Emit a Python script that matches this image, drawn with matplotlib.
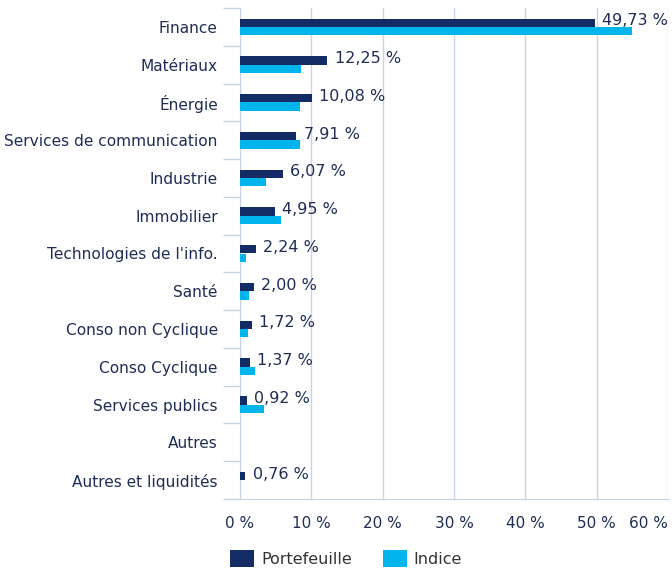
import matplotlib.pyplot as plt
import numpy as np

# data
categories = ['Finance', 'Matériaux', 'Énergie', 'Services de communication',
              'Industrie', 'Immobilier', "Technologies de l'info.", 'Santé',
              'Conso non Cyclique', 'Conso Cyclique', 'Services publics',
              'Autres', 'Autres et liquidités']
portefeuille = [49.73, 12.25, 10.08, 7.91, 6.07, 4.95, 2.24, 2.00, 1.72, 1.37, 0.92, 0.0, 0.76]
indice = [54.9, 8.6, 8.4, 8.4, 3.7, 5.7, 0.8, 1.3, 1.1, 2.1, 3.3, 0.0, 0.0]
port_labels = ['49,73 %', '12,25 %', '10,08 %', '7,91 %', '6,07 %', '4,95 %', '2,24 %',
               '2,00 %', '1,72 %', '1,37 %', '0,92 %', '', '0,76 %']
xticks = [0, 10, 20, 30, 40, 50, 60]

dark = '#132c66'
light = '#00b5eb'
grid_col = '#c8d4e6'
text_col = '#1f2d55'

fig = plt.figure(figsize=(6.72, 5.7), dpi=100)
ax = fig.add_axes([240 / 672, 71 / 570, 428 / 672, 491 / 570])

n = len(categories)
y = np.arange(n)
h = 0.22
ax.barh(y - h / 2, portefeuille, height=h, color=dark, label='Portefeuille', zorder=3)
ax.barh(y + h / 2, indice, height=h, color=light, label='Indice', zorder=3)

for yi, v, lab in zip(y, portefeuille, port_labels):
    if lab:
        ax.text(v + 1.0, yi - h / 2 - 0.05, lab, va='center', ha='left',
                fontsize=11.5, color=text_col, zorder=4)

ax.set_ylim(n - 0.5, -0.5)
ax.set_xlim(0, 60)
ax.set_xticks(xticks)
ax.set_xticklabels([f'{t} %' for t in xticks], fontsize=11, color=text_col)
ax.get_xticklabels()[-1].set_ha('right')
ax.tick_params(axis='x', length=0, pad=12)

ax.set_yticks(y)
ax.set_yticklabels(categories, fontsize=11.1, color=text_col)
ax.set_yticks(np.arange(-0.5, n, 1), minor=True)
ax.tick_params(axis='y', which='major', length=0, pad=16)
ax.tick_params(axis='y', which='minor', length=12, width=1, color=grid_col)

ax.grid(axis='x', color=grid_col, linewidth=1, zorder=0)
for s in ['top', 'right']:
    ax.spines[s].set_visible(False)
ax.spines['left'].set_color(grid_col)
ax.spines['bottom'].set_color(grid_col)
ax.spines['bottom'].set_bounds(-1.7, 60)
ax.spines['bottom'].set_clip_on(False)

fig.legend(loc='lower left', bbox_to_anchor=(216 / 672, -0.02), ncol=2, frameon=False,
           fontsize=11.5, handlelength=1.5, handleheight=1.3, columnspacing=1.9,
           handletextpad=0.45, labelcolor='#333333')

plt.savefig('out.png', dpi=100)
